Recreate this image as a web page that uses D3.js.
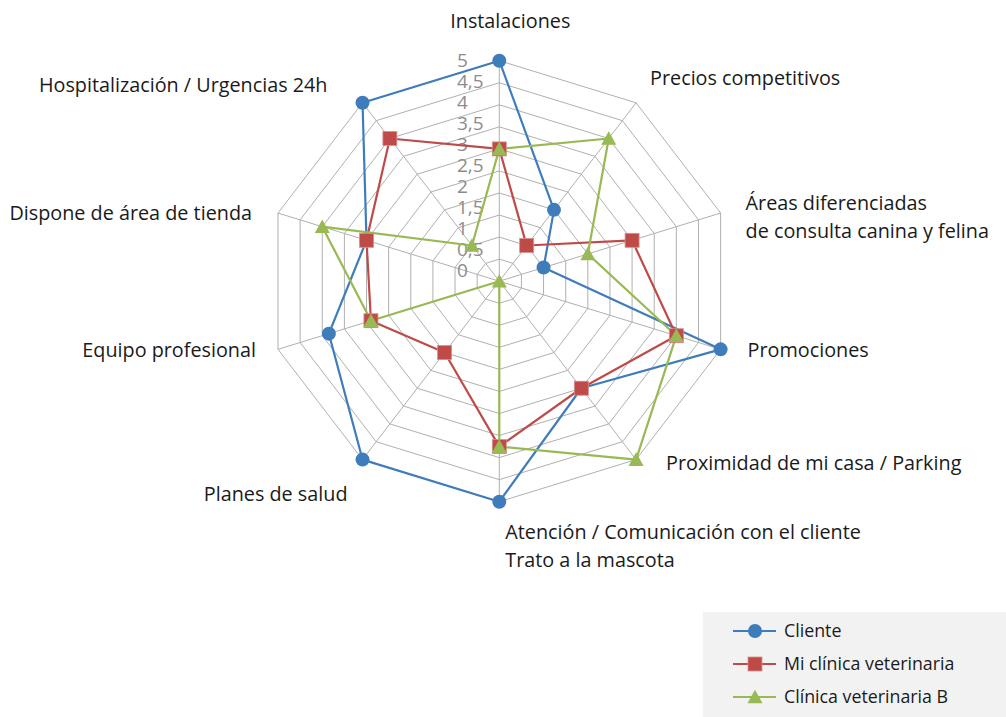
<!DOCTYPE html>
<html><head><meta charset="utf-8">
<script src="https://cdn.jsdelivr.net/npm/d3@7"></script>
<style>
html,body{margin:0;padding:0;background:#fff;}
svg{display:block;font-family:"Open Sans","Noto Sans",sans-serif;}
</style></head>
<body>
<svg id="chart" width="1006" height="717"></svg>
<script>
const categories = [
  ["Instalaciones"],
  ["Precios competitivos"],
  ["Áreas diferenciadas", "de consulta canina y felina"],
  ["Promociones"],
  ["Proximidad de mi casa / Parking"],
  ["Atención / Comunicación con el cliente", "Trato a la mascota"],
  ["Planes de salud"],
  ["Equipo profesional"],
  ["Dispone de área de tienda"],
  ["Hospitalización / Urgencias 24h"]
];
const seriesNames = ["Cliente", "Mi clínica veterinaria", "Clínica veterinaria B"];
const cliente = [5, 2, 1, 5, 3, 5, 5, 3.85, 3, 5];
const miClinica = [3, 1, 3, 4, 3, 3.75, 2, 2.9, 3, 4];
const clinicaB = [3, 4, 2, 4, 5, 3.75, 0, 2.9, 4, 1];
const tickValues = [0, 0.5, 1, 1.5, 2, 2.5, 3, 3.5, 4, 4.5, 5];
const tickLabels = ["0", "0,5", "1", "1,5", "2", "2,5", "3", "3,5", "4", "4,5", "5"];

// layout
const cx = 499.3, cy = 281.2, rx = 232.7, ry = 220.5;
const colors = ["#3f7cbc", "#be4b48", "#98b954"];
const svg = d3.select("#chart");

const rScale = d3.scaleLinear().domain([0, 5]).range([0, 1]);
const angle = d3.scaleLinear().domain([0, categories.length]).range([0, 2 * Math.PI]);
function pt(i, v) {
  const a = angle(i), r = rScale(v);
  return [cx + Math.sin(a) * rx * r, cy - Math.cos(a) * ry * r];
}

// grid rings
const ringVals = tickValues.filter(v => v > 0);
const gGrid = svg.append("g");
gGrid.selectAll("path.ring").data(ringVals).join("path")
  .attr("d", v => d3.line()(d3.range(categories.length).map(i => pt(i, v))) + "Z")
  .attr("fill", "none").attr("stroke", "#b0b0b0").attr("stroke-width", 1);
gGrid.selectAll("line.spoke").data(d3.range(categories.length)).join("line")
  .attr("x1", cx).attr("y1", cy)
  .attr("x2", i => pt(i, 5)[0]).attr("y2", i => pt(i, 5)[1])
  .attr("stroke", "#b0b0b0").attr("stroke-width", 1);

// tick labels
const labelY = d3.scaleLinear().domain([0, 5]).range([cy - 11, cy - ry]);
svg.append("g").selectAll("text").data(tickValues).join("text")
  .attr("x", 457).attr("y", v => labelY(v)).attr("dy", "0.35em")
  .attr("font-size", 19).attr("fill", "#8c8c8c")
  .text((v, i) => tickLabels[i]);

// series
const series = [cliente, miClinica, clinicaB];
series.forEach((vals, s) => {
  const pts = vals.map((v, i) => pt(i, v));
  svg.append("path").attr("d", d3.line()(pts) + "Z")
    .attr("fill", "none").attr("stroke", colors[s]).attr("stroke-width", 2.2)
    .attr("stroke-linejoin", "round");
});
function marker(g, s, x, y, size) {
  if (s === 0) {
    g.append("circle").attr("cx", x).attr("cy", y).attr("r", size / 2).attr("fill", colors[0]);
  } else if (s === 1) {
    g.append("rect").attr("x", x - size / 2).attr("y", y - size / 2).attr("width", size).attr("height", size)
      .attr("fill", colors[1]).attr("stroke", "#d9908e").attr("stroke-width", 0.8);
  } else {
    const h = size * 0.9;
    g.append("path").attr("d", `M${x},${y - h / 2 - 1}L${x + size / 2 + 0.5},${y + h / 2}L${x - size / 2 - 0.5},${y + h / 2}Z`)
      .attr("fill", colors[2]);
  }
}
series.forEach((vals, s) => {
  const g = svg.append("g");
  vals.forEach((v, i) => { const p = pt(i, v); marker(g, s, p[0], p[1], 14); });
});

// category labels
const labelLayout = [
  {dx: 11, dy: -40, anchor: "middle"},
  {dx: 14, dy: -25, anchor: "start"},
  {dx: 25, dy: 4, anchor: "start"},
  {dx: 27, dy: 1, anchor: "start"},
  {dx: 30, dy: 3, anchor: "start"},
  {dx: 6, dy: 44, anchor: "start"},
  {dx: -15, dy: 34, anchor: "end"},
  {dx: -22, dy: 1, anchor: "end"},
  {dx: -26, dy: 0, anchor: "end"},
  {dx: -35, dy: -18, anchor: "end"}
];
const lineH = 28;
categories.forEach((lines, i) => {
  const p = pt(i, 5), L = labelLayout[i];
  const t = svg.append("text").attr("font-size", 19.8).attr("fill", "#1a1a1a")
    .attr("text-anchor", L.anchor);
  const y0 = p[1] + L.dy - (lines.length - 1) * lineH / 2;
  lines.forEach((ln, k) => {
    t.append("tspan").attr("x", p[0] + L.dx).attr("y", y0 + k * lineH).attr("dy", "0.35em").text(ln);
  });
});

// legend
const lg = svg.append("g");
lg.append("rect").attr("x", 703).attr("y", 612).attr("width", 303).attr("height", 105).attr("fill", "#f2f2f2");
const legY = d3.scalePoint().domain(seriesNames).range([631, 697]);
seriesNames.forEach((n, s) => {
  const y = legY(n);
  lg.append("line").attr("x1", 733).attr("x2", 776).attr("y1", y).attr("y2", y)
    .attr("stroke", colors[s]).attr("stroke-width", 2.2);
  marker(lg, s, 755, y, 14);
  lg.append("text").attr("x", 784).attr("y", y).attr("dy", "0.35em")
    .attr("font-size", 17.8).attr("fill", "#1a1a1a").text(n);
});
</script>
</body></html>
